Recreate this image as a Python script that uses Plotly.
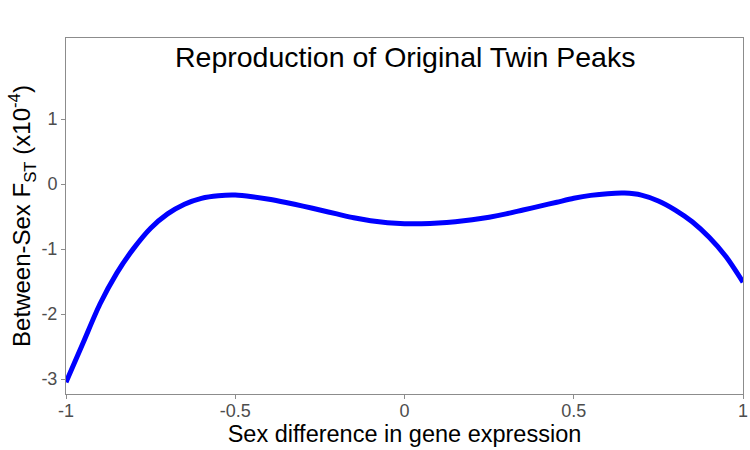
import plotly.graph_objects as go

x_vals = [-1.00, -0.95, -0.90, -0.85, -0.80, -0.75, -0.70, -0.65, -0.60, -0.55,
          -0.50, -0.45, -0.40, -0.35, -0.30, -0.25, -0.20, -0.15, -0.10, -0.05,
          0.00, 0.05, 0.10, 0.15, 0.20, 0.25, 0.30, 0.35, 0.40, 0.45,
          0.50, 0.55, 0.60, 0.65, 0.70, 0.75, 0.80, 0.85, 0.90, 0.95, 1.00]
fst_vals = [-3.05, -2.45, -1.85, -1.37, -0.99, -0.68, -0.46, -0.31, -0.22, -0.18,
            -0.17, -0.195, -0.235, -0.285, -0.34, -0.40, -0.46, -0.52, -0.565, -0.595,
            -0.61, -0.61, -0.60, -0.58, -0.55, -0.51, -0.46, -0.40, -0.34, -0.28,
            -0.22, -0.175, -0.148, -0.14, -0.17, -0.26, -0.40, -0.58, -0.82, -1.12, -1.51]
x_ticks = [-1, -0.5, 0, 0.5, 1]
x_tick_labels = ["-1", "-0.5", "0", "0.5", "1"]
y_ticks = [-3, -2, -1, 0, 1]
y_tick_labels = ["-3", "-2", "-1", "0", "1"]

FONT = "Liberation Sans, Arial, sans-serif"

fig = go.Figure()
fig.add_trace(go.Scatter(x=x_vals, y=fst_vals, mode="lines",
                         line=dict(color="#0000FF", width=5, shape="spline", smoothing=0.8),
                         showlegend=False, hoverinfo="skip"))

axis_common = dict(showgrid=False, zeroline=False, showline=True, mirror=True,
                   linecolor="#8c8c8c", linewidth=1, ticks="outside", ticklen=4,
                   tickcolor="#8c8c8c", automargin=False,
                   tickfont=dict(family=FONT, size=18, color="#4d4d4d"))

fig.update_layout(
    width=750, height=450,
    margin=dict(l=66, r=7, t=38, b=56, autoexpand=False),
    paper_bgcolor="white", plot_bgcolor="white",
    font=dict(family=FONT),
    xaxis=dict(range=[-1, 1], tickvals=x_ticks, ticktext=x_tick_labels,
               ticklabelstandoff=-4,
               title=dict(text="Sex difference in gene expression",
                          font=dict(family=FONT, size=23.5, color="black"), standoff=2),
               **axis_common),
    yaxis=dict(range=[-3.23, 2.246], tickvals=y_ticks, ticktext=y_tick_labels,
               title=dict(text="Between-Sex F<sub>ST</sub> (x10<sup>-4</sup>)",
                          font=dict(family=FONT, size=24, color="black"), standoff=3),
               **axis_common),
    annotations=[dict(text="Reproduction of Original Twin Peaks", xref="paper", yref="paper",
                      x=0.5, y=0.947, xanchor="center", yanchor="middle", showarrow=False,
                      font=dict(family=FONT, size=28.5, color="black"))],
)

# remove the browser's default body margin and scrollbars so the 750x450
# figure fills the window exactly
fig.write_html(
    "out.html",
    config={"displayModeBar": False},
    post_script="document.body.style.margin='0';document.body.style.overflow='hidden';"
                "document.documentElement.style.overflow='hidden';",
)
